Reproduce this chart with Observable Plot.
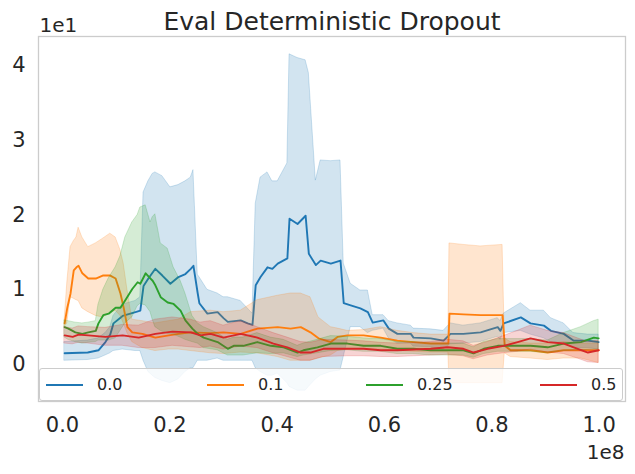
<!DOCTYPE html>
<html><head><meta charset="utf-8">
<script src="https://cdn.jsdelivr.net/npm/d3@7"></script>
<script src="https://cdn.jsdelivr.net/npm/@observablehq/plot@0.6"></script>
<style>
body{margin:0;background:#fff;}
#wrap{position:relative;width:635px;height:474px;font-family:"DejaVu Sans",sans-serif;color:#262626;}
#legend{position:absolute;left:39px;top:368px;width:584px;height:33px;box-sizing:border-box;border:1px solid #cccccc;border-radius:3px;background:rgba(255,255,255,0.8);}
.item{position:absolute;top:0;height:100%;display:flex;align-items:center;font-size:16px;white-space:nowrap;}
.swatch{width:37px;height:2px;margin-right:14px;}
</style></head><body><div id="wrap"><div id="legend"></div></div>
<script>
// Values in units of 1e1 (y) and 1e8 steps (x)
const title = "Eval Deterministic Dropout";
const seriesNames = ["0.0", "0.1", "0.25", "0.5"];
const seriesColors = ["#1f77b4", "#ff7f0e", "#2ca02c", "#d62728"];
const xTicks = [0, 0.2, 0.4, 0.6, 0.8, 1.0];
const yTicks = [0, 1, 2, 3, 4];

const blueX = [0.004,0.047,0.067,0.080,0.089,0.095,0.112,0.136,0.145,0.151,0.160,0.168,0.173,0.186,0.201,0.216,0.229,0.239,0.244,0.252,0.255,0.270,0.289,0.300,0.308,0.332,0.345,0.354,0.360,0.369,0.382,0.391,0.401,0.419,0.423,0.438,0.453,0.459,0.472,0.481,0.500,0.518,0.524,0.537,0.555,0.569,0.578,0.598,0.608,0.624,0.649,0.654,0.686,0.710,0.723,0.747,0.779,0.811,0.816,0.822,0.854,0.872,0.897,0.910,0.934,0.952,0.979,0.999];
const blueMean = [0.15,0.16,0.19,0.30,0.40,0.55,0.65,0.70,0.72,1.05,1.15,1.23,1.28,1.19,1.08,1.17,1.21,1.28,1.32,0.95,0.82,0.68,0.70,0.62,0.57,0.59,0.55,0.53,1.06,1.17,1.30,1.28,1.35,1.42,1.95,1.88,1.99,1.48,1.33,1.39,1.35,1.39,0.82,0.79,0.75,0.70,0.56,0.59,0.48,0.41,0.41,0.36,0.35,0.32,0.41,0.41,0.43,0.50,0.45,0.55,0.63,0.55,0.52,0.45,0.41,0.32,0.32,0.30];
const blueLo = [0.05,0.06,0.08,0.12,0.15,0.18,0.20,0.18,0.18,0.05,-0.10,-0.15,-0.18,-0.22,-0.25,-0.20,-0.10,-0.05,-0.05,0.05,0.05,0.05,0.08,0.05,0.05,0.05,0.05,0.05,-0.05,-0.10,-0.15,-0.15,-0.12,-0.25,-0.30,-0.35,-0.35,-0.30,-0.20,-0.15,-0.10,-0.08,0.10,0.50,0.50,0.42,0.45,0.48,0.35,0.28,0.28,0.24,0.23,0.20,0.27,0.28,0.30,0.37,0.33,0.42,0.45,0.40,0.35,0.30,0.28,0.22,0.22,0.20];
const blueHi = [0.30,0.32,0.35,0.42,0.50,0.65,0.80,0.85,0.90,2.30,2.45,2.55,2.57,2.52,2.37,2.40,2.45,2.50,2.60,1.20,1.17,1.00,0.95,0.90,0.90,0.85,0.75,0.68,2.15,2.50,2.57,2.45,2.45,2.69,4.15,4.10,4.07,3.90,2.46,2.73,2.72,2.73,1.35,1.08,0.99,0.99,0.66,0.66,0.58,0.55,0.52,0.48,0.47,0.45,0.55,0.52,0.55,0.62,0.58,0.68,0.82,0.72,0.72,0.62,0.55,0.42,0.40,0.40];

const orangeX = [0.004,0.009,0.015,0.021,0.026,0.030,0.037,0.048,0.062,0.075,0.089,0.099,0.108,0.114,0.121,0.130,0.149,0.173,0.198,0.216,0.239,0.276,0.300,0.332,0.363,0.401,0.425,0.444,0.462,0.477,0.500,0.513,0.531,0.561,0.593,0.624,0.654,0.686,0.719,0.721,0.747,0.779,0.820,0.824,0.835,0.872,0.904,0.934,0.966,0.999];
const orangeMean = [0.55,0.76,0.95,1.26,1.30,1.32,1.22,1.15,1.15,1.19,1.19,1.15,0.95,0.76,0.50,0.43,0.41,0.36,0.39,0.41,0.43,0.42,0.43,0.41,0.48,0.50,0.48,0.50,0.43,0.35,0.30,0.37,0.39,0.39,0.36,0.32,0.30,0.28,0.28,0.68,0.67,0.66,0.66,0.25,0.19,0.19,0.16,0.19,0.19,0.19];
const orangeLo = [0.50,0.55,0.90,0.88,0.86,0.85,0.75,0.70,0.65,0.63,0.68,0.72,0.65,0.55,0.42,0.30,0.22,0.18,0.20,0.20,0.18,0.15,0.14,0.16,0.15,0.10,0.05,0.05,0.05,0.08,0.12,0.18,0.20,0.20,0.20,0.18,0.17,0.16,0.16,-0.25,-0.25,-0.25,-0.25,0.15,0.10,0.08,0.06,0.08,0.08,0.02];
const orangeHi = [0.60,1.10,1.57,1.65,1.70,1.83,1.70,1.57,1.62,1.68,1.75,1.70,1.53,1.35,1.00,0.60,0.58,0.55,0.58,0.60,0.70,0.72,0.70,0.72,0.86,0.92,0.95,0.95,0.90,0.63,0.50,0.48,0.45,0.46,0.50,0.45,0.42,0.40,0.40,1.62,1.60,1.58,1.60,0.35,0.30,0.28,0.28,0.30,0.28,0.28];

const greenX = [0.004,0.011,0.024,0.037,0.048,0.062,0.067,0.076,0.086,0.099,0.108,0.117,0.130,0.140,0.145,0.155,0.164,0.168,0.173,0.183,0.196,0.207,0.220,0.229,0.242,0.252,0.263,0.289,0.308,0.319,0.337,0.363,0.388,0.412,0.438,0.449,0.475,0.500,0.531,0.561,0.593,0.624,0.654,0.686,0.747,0.766,0.785,0.811,0.848,0.872,0.904,0.934,0.966,0.990,0.999];
const greenMean = [0.50,0.48,0.43,0.41,0.43,0.45,0.55,0.66,0.68,0.76,0.76,0.86,1.01,1.10,1.08,1.22,1.15,1.12,1.06,0.90,0.83,0.81,0.72,0.59,0.48,0.41,0.36,0.30,0.21,0.25,0.25,0.30,0.25,0.23,0.16,0.19,0.23,0.28,0.28,0.25,0.25,0.21,0.21,0.19,0.19,0.15,0.21,0.25,0.25,0.25,0.23,0.28,0.30,0.36,0.35];
const greenLo = [0.36,0.33,0.30,0.28,0.29,0.30,0.32,0.32,0.32,0.35,0.45,0.55,0.63,0.78,0.81,0.79,0.70,0.60,0.50,0.45,0.41,0.40,0.36,0.33,0.30,0.28,0.22,0.19,0.12,0.12,0.12,0.15,0.14,0.15,0.10,0.12,0.15,0.18,0.19,0.17,0.17,0.14,0.14,0.12,0.12,0.09,0.14,0.17,0.17,0.17,0.15,0.18,0.19,0.20,0.20];
const greenHi = [0.59,0.58,0.56,0.55,0.56,0.58,0.80,1.00,1.15,1.30,1.45,1.70,1.90,2.00,2.10,2.13,1.90,1.97,2.01,1.62,1.55,1.30,1.12,0.95,0.65,0.55,0.50,0.42,0.33,0.36,0.36,0.42,0.36,0.33,0.25,0.28,0.33,0.38,0.37,0.35,0.34,0.30,0.30,0.28,0.28,0.23,0.30,0.34,0.34,0.34,0.32,0.42,0.50,0.58,0.60];

const redX = [0.004,0.019,0.030,0.048,0.080,0.112,0.142,0.173,0.205,0.239,0.257,0.276,0.300,0.332,0.363,0.393,0.419,0.444,0.462,0.486,0.531,0.561,0.593,0.624,0.686,0.718,0.747,0.766,0.792,0.822,0.848,0.872,0.904,0.934,0.960,0.979,0.999];
const redMean = [0.39,0.37,0.40,0.39,0.37,0.39,0.36,0.41,0.44,0.43,0.39,0.41,0.36,0.41,0.36,0.28,0.23,0.16,0.16,0.21,0.21,0.21,0.19,0.19,0.21,0.23,0.21,0.16,0.21,0.25,0.30,0.35,0.30,0.28,0.21,0.16,0.19];
const redLo = [0.28,0.27,0.29,0.28,0.25,0.25,0.22,0.22,0.25,0.23,0.22,0.24,0.20,0.24,0.22,0.15,0.10,0.05,0.05,0.10,0.11,0.11,0.10,0.10,0.12,0.13,0.11,0.07,0.12,0.15,0.17,0.20,0.16,0.14,0.08,0.03,0.02];
const redHi = [0.50,0.48,0.51,0.50,0.49,0.53,0.52,0.60,0.63,0.60,0.56,0.58,0.52,0.58,0.50,0.42,0.36,0.30,0.29,0.33,0.32,0.31,0.29,0.28,0.30,0.33,0.31,0.25,0.30,0.38,0.45,0.52,0.45,0.42,0.35,0.30,0.32];

const seriesData = [
  [blueX, blueMean, blueLo, blueHi],
  [orangeX, orangeMean, orangeLo, orangeHi],
  [greenX, greenMean, greenLo, greenHi],
  [redX, redMean, redLo, redHi]
];

const marks = [];
seriesData.forEach(([xs, m, lo, hi], i) => {
  const rows = xs.map((x, j) => ({x, mean: m[j], lo: lo[j], hi: hi[j]}));
  const c = seriesColors[i];
  marks.push(Plot.areaY(rows, {x: "x", y1: "lo", y2: "hi", fill: c, fillOpacity: 0.2, stroke: c, strokeOpacity: 0.2, strokeWidth: 1}));
  marks.push(Plot.lineY(rows, {x: "x", y: "mean", stroke: c, strokeWidth: 1.9}));
});

const chart = Plot.plot({
  width: 635, height: 474,
  marginLeft: 38, marginRight: 10, marginTop: 36, marginBottom: 73,
  style: {fontFamily: "DejaVu Sans", fontSize: "21px", color: "#262626", background: "white", overflow: "visible"},
  x: {domain: [-0.0447, 1.049]},
  y: {domain: [-0.495, 4.388]},
  marks: [
    ...marks,
    Plot.frame({stroke: "#cccccc", strokeWidth: 1.3}),
    Plot.axisY({ticks: yTicks, tickSize: 0, tickPadding: 13, label: null, tickFormat: d => String(d), fontSize: 21}),
    Plot.axisX({ticks: xTicks, tickSize: 0, tickPadding: 16, label: null, tickFormat: d3.format(".1f"), fontSize: 21}),
    Plot.text([title], {frameAnchor: "top", lineAnchor: "middle", dy: -15, fontSize: 25, fill: "#262626"}),
    Plot.text(["1e1"], {frameAnchor: "top-left", lineAnchor: "middle", textAnchor: "start", dx: 1, dy: -11, fontSize: 20, fill: "#262626"}),
    Plot.text(["1e8"], {frameAnchor: "bottom-right", lineAnchor: "middle", textAnchor: "end", dx: -1, dy: 51, fontSize: 20, fill: "#262626"})
  ]
});
const wrap = document.getElementById("wrap");
wrap.insertBefore(chart, wrap.firstChild);

const legend = document.getElementById("legend");
const legendLeft = [6, 167, 326, 500];
seriesNames.forEach((name, i) => {
  const item = document.createElement("div");
  item.className = "item";
  item.style.left = legendLeft[i] + "px";
  const sw = document.createElement("div");
  sw.className = "swatch";
  sw.style.background = seriesColors[i];
  const lab = document.createElement("span");
  lab.textContent = name;
  item.appendChild(sw); item.appendChild(lab);
  legend.appendChild(item);
});
</script>
</body></html>
